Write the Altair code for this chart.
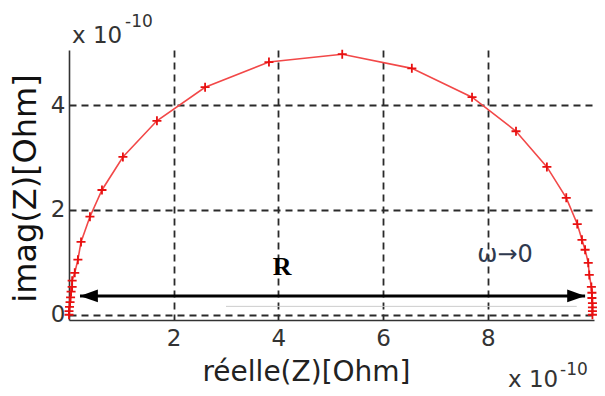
import altair as alt
import pandas as pd

# Nyquist plot values (units of 1e-10 Ohm)
re_z = [0.0, 0.0, 0.01, 0.02, 0.03, 0.04, 0.06, 0.06, 0.11, 0.17,
        0.23, 0.40, 0.63, 1.03, 1.68, 2.60, 3.82, 5.22, 6.55, 7.70,
        8.54, 9.13, 9.50, 9.71, 9.80, 9.86, 9.92, 9.94, 9.98, 9.99,
        9.99, 10.0, 10.0, 10.0, 10.0]
im_z = [0.0, 0.07, 0.15, 0.24, 0.33, 0.44, 0.53, 0.65, 0.80, 1.05,
        1.39, 1.87, 2.38, 3.01, 3.70, 4.34, 4.82, 4.97, 4.70, 4.15,
        3.50, 2.82, 2.23, 1.73, 1.43, 1.24, 0.99, 0.76, 0.53, 0.42,
        0.32, 0.22, 0.14, 0.07, 0.0]

x_ticks = [2, 4, 6, 8]
y_ticks = [0, 2, 4]

# double arrow "R" (from, to, level) and its head centres
arrow_x = [0.21, 9.86]
arrow_y = [0.36, 0.36]
head_left_x = [0.38]
head_right_x = [9.69]

# faint grey trace near the axis
faint_x = [3.0, 9.7]
faint_y = [0.16, 0.16]

labels_text = ["R", "ω→0"]
labels_x = [4.07, 8.33]
labels_y = [0.92, 1.14]

df = pd.DataFrame({"x": re_z, "y": im_z, "i": list(range(len(re_z)))})
arrow_df = pd.DataFrame({"x": [arrow_x[0]], "x2": [arrow_x[1]], "y": [arrow_y[0]]})
hl_df = pd.DataFrame({"x": head_left_x, "y": [arrow_y[0]]})
hr_df = pd.DataFrame({"x": head_right_x, "y": [arrow_y[1]]})
faint_df = pd.DataFrame({"x": faint_x, "y": faint_y})
lab_df = pd.DataFrame({"t": labels_text, "x": labels_x, "y": labels_y})

xs = alt.Scale(domain=[0, 10.03], nice=False, zero=False)
ys = alt.Scale(domain=[-0.1, 5.05], nice=False, zero=False)

FONT = "DejaVu Sans"

x_axis = alt.Axis(values=x_ticks, title="réelle(Z)[Ohm]", grid=True, ticks=False,
                  labelFont=FONT, labelFontSize=23, labelColor="#333", labelPadding=7,
                  domainColor="#333", domainWidth=1.6,
                  gridDash=[7, 5], gridColor="#2a2a2a", gridWidth=1.8,
                  titleFont=FONT, titleFontSize=28, titleFontWeight="normal", titleColor="#222",
                  titleX=237, titleY=52, titleBaseline="middle", titleAlign="center")
y_axis = alt.Axis(values=y_ticks, title="imag(Z)[Ohm]", grid=True, ticks=False,
                  labelFont=FONT, labelFontSize=23, labelColor="#333", labelPadding=4,
                  domainColor="#333", domainWidth=1.6,
                  gridDash=[7, 5], gridColor="#2a2a2a", gridWidth=1.8,
                  titleFont=FONT, titleFontSize=32, titleFontWeight="normal", titleColor="#111",
                  titleX=-44, titleY=138, titleAngle=270, titleBaseline="middle", titleAlign="center")

line = alt.Chart(df).mark_line(color="#f24848", strokeWidth=1.6).encode(
    x=alt.X("x:Q", scale=xs, axis=x_axis),
    y=alt.Y("y:Q", scale=ys, axis=y_axis),
    order="i:Q",
)

pts = alt.Chart(df).mark_point(shape="M-1,0H1M0,-1V1", filled=False, color="#e81010",
                               strokeWidth=1.8, size=81, opacity=1).encode(
    x=alt.X("x:Q", scale=xs), y=alt.Y("y:Q", scale=ys))

faint = alt.Chart(faint_df).mark_line(color="#cccccc", strokeWidth=1).encode(
    x=alt.X("x:Q", scale=xs), y=alt.Y("y:Q", scale=ys))

arrow = alt.Chart(arrow_df).mark_rule(color="black", strokeWidth=3).encode(
    x=alt.X("x:Q", scale=xs), x2="x2:Q", y=alt.Y("y:Q", scale=ys))

hl = alt.Chart(hl_df).mark_point(shape="M-1,0L1,-0.7L1,0.7Z", filled=True, color="black",
                                 size=324, opacity=1).encode(
    x=alt.X("x:Q", scale=xs), y=alt.Y("y:Q", scale=ys))
hr = alt.Chart(hr_df).mark_point(shape="M1,0L-1,-0.7L-1,0.7Z", filled=True, color="black",
                                 size=324, opacity=1).encode(
    x=alt.X("x:Q", scale=xs), y=alt.Y("y:Q", scale=ys))

r_lab = alt.Chart(lab_df.iloc[[0]]).mark_text(font="Liberation Serif", fontSize=26,
                                              fontWeight="bold", color="black",
                                              baseline="middle").encode(
    x=alt.X("x:Q", scale=xs), y=alt.Y("y:Q", scale=ys), text="t:N")
w_lab = alt.Chart(lab_df.iloc[[1]]).mark_text(font=FONT, fontSize=24, color="#2f3a4f",
                                              baseline="middle").encode(
    x=alt.X("x:Q", scale=xs), y=alt.Y("y:Q", scale=ys), text="t:N")

mult_df = pd.DataFrame({"t": ["x 10", "-10", "x 10", "-10"],
                        "px": [3, 56, 439, 491], "py": [-7, -23, 337, 325]})
mult_main = alt.Chart(mult_df.iloc[[0, 2]]).mark_text(font=FONT, fontSize=23, color="#333",
                                                     align="left", baseline="alphabetic").encode(
    x=alt.X("px:Q", scale=None), y=alt.Y("py:Q", scale=None), text="t:N")
mult_sup = alt.Chart(mult_df.iloc[[1, 3]]).mark_text(font=FONT, fontSize=17, color="#333",
                                                    align="left", baseline="alphabetic").encode(
    x=alt.X("px:Q", scale=None), y=alt.Y("py:Q", scale=None), text="t:N")

chart = alt.layer(line, faint, pts, arrow, hl, hr, r_lab, w_lab, mult_main, mult_sup).properties(
    width=525, height=270,
    autosize=alt.AutoSizeParams(type="none"),
    padding={"left": 69, "top": 50, "right": 11, "bottom": 76},
    background="white",
).configure_view(stroke=None)

chart.save("out.html", embed_options={"renderer": "svg", "actions": False})
